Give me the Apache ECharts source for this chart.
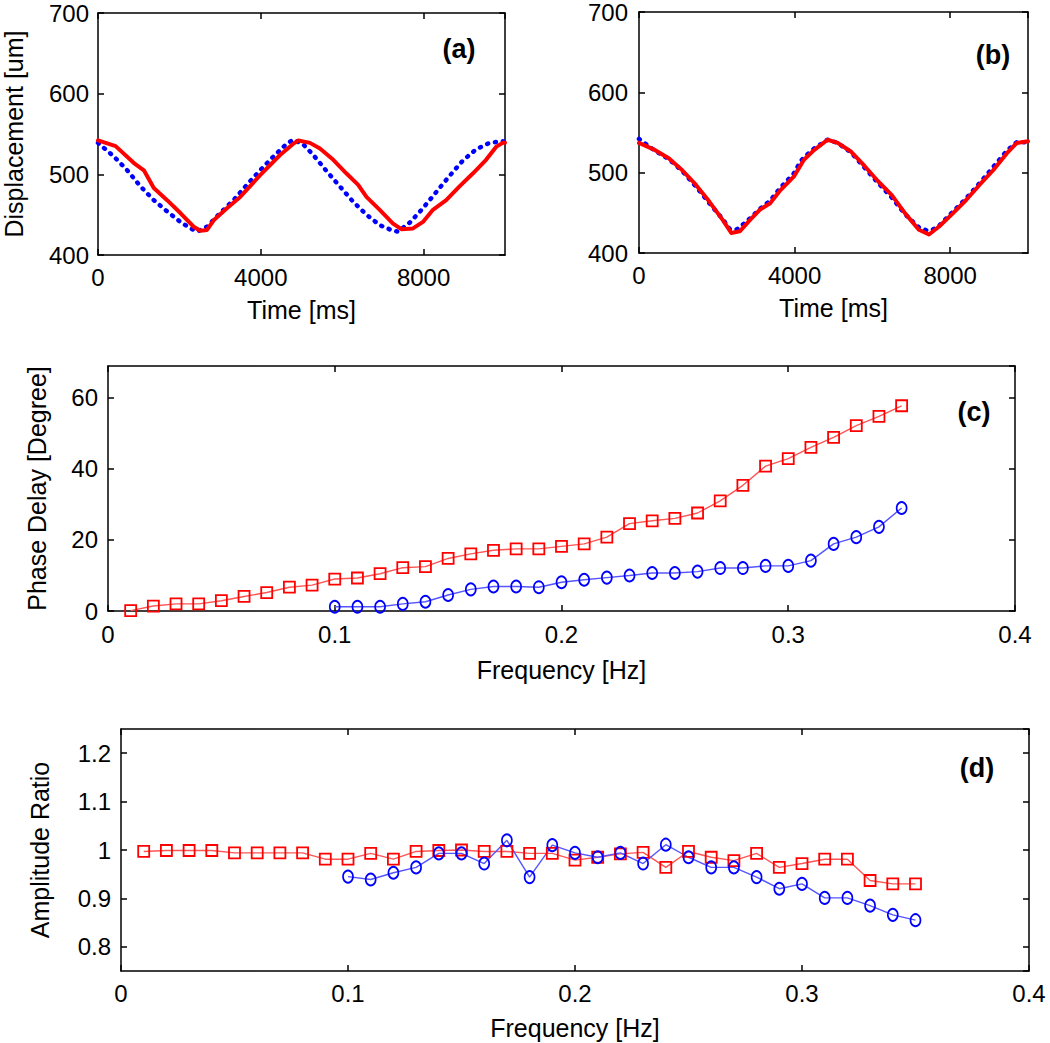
<!DOCTYPE html>
<html><head><meta charset="utf-8">
<script src="https://cdn.jsdelivr.net/npm/echarts@6/dist/echarts.min.js"></script>
<style>html,body{margin:0;padding:0;background:#fff}#c{width:1050px;height:1043px}</style>
</head><body><div id="c"></div>
<script>
// ---------- Data ----------
// Panel (a): displacement vs time
const aRedT  = [0,433,882,1127,1371,1698,2024,2351,2514,2678,2841,3167,3494,3984,4473,4800,4922,5208,5453,5780,6106,6392,6596,6922,7249,7453,7739,7984,8229,8555,8882,9208,9535,9780,9943,10000];
const aRedY  = [542,535,514,505,483,468,452,435,430,431,443,458,472,499,524,538,542,539,532,518,501,487,472,456,439,432,433,441,456,468,485,501,518,534,539,539];
const aBlueT = [0,392,718,1045,1371,1698,2024,2269,2433,2678,3004,3331,3657,3984,4310,4637,4800,5045,5290,5616,5943,6269,6596,6922,7249,7371,7657,7984,8310,8637,8963,9290,9616,9943,10000];
const aBlueY = [539,522,505,485,468,454,441,433,429,435,452,468,487,505,522,538,543,537,524,504,485,466,450,437,430,429,440,458,478,498,517,531,539,541,540];
// Panel (b)
const bRedT  = [0,417,765,1112,1460,1807,2155,2372,2589,2850,3110,3371,3632,3979,4240,4500,4848,5108,5456,5804,6151,6499,6846,7194,7454,7715,8062,8410,8758,9105,9453,9713,10000];
const bRedY  = [537,528,518,503,485,464,441,425,427,441,454,462,478,495,516,528,541,537,526,508,489,472,449,429,423,433,449,466,485,503,524,537,539];
const bBlueT = [0,417,765,1112,1460,1807,2155,2330,2500,2589,2850,3110,3371,3632,3979,4153,4240,4500,4848,5108,5456,5804,6151,6499,6846,7194,7400,7550,7715,8062,8410,8758,9105,9453,9713,10000];
const bBlueY = [542,527,517,502,483,462,442,430,429,432,443,455,465,481,499,514,519,530,541,537,525,506,487,469,448,432,428,429,434,451,468,487,507,527,538,538];
// Panels (c) and (d): frequency response
const freqRed  = [0.01,0.02,0.03,0.04,0.05,0.06,0.07,0.08,0.09,0.10,0.11,0.12,0.13,0.14,0.15,0.16,0.17,0.18,0.19,0.20,0.21,0.22,0.23,0.24,0.25,0.26,0.27,0.28,0.29,0.30,0.31,0.32,0.33,0.34,0.35];
const freqBlue = [0.10,0.11,0.12,0.13,0.14,0.15,0.16,0.17,0.18,0.19,0.20,0.21,0.22,0.23,0.24,0.25,0.26,0.27,0.28,0.29,0.30,0.31,0.32,0.33,0.34,0.35];
const phaseRed  = [0.1,1.4,2.0,2.0,2.9,4.1,5.2,6.7,7.3,9.0,9.3,10.5,12.2,12.5,14.8,16.1,17.1,17.5,17.5,18.2,18.9,20.8,24.6,25.4,26.1,27.6,31.0,35.4,40.8,42.9,46.1,48.9,52.2,54.8,57.8];
const phaseBlue = [1.2,1.2,1.2,2.0,2.6,4.5,6.1,6.9,6.9,6.7,8.1,8.8,9.4,10.0,10.7,10.7,11.1,12.1,12.1,12.7,12.7,14.2,18.9,20.8,23.7,29.0];
const ampRed  = [0.997,0.999,0.999,0.999,0.994,0.994,0.994,0.994,0.981,0.981,0.993,0.981,0.997,0.999,1.000,0.997,0.997,0.993,0.993,0.979,0.985,0.992,0.995,0.964,0.997,0.985,0.978,0.993,0.964,0.972,0.981,0.981,0.937,0.930,0.930];
const ampBlue = [0.945,0.939,0.953,0.964,0.993,0.993,0.972,1.020,0.944,1.010,0.994,0.985,0.994,0.972,1.011,0.985,0.964,0.964,0.944,0.920,0.930,0.901,0.901,0.885,0.866,0.855];
// Texts
const panelLabels = ['(a)','(b)','(c)','(d)'];
const titles = {disp:'Displacement [um]', time:'Time [ms]', phase:'Phase Delay [Degree]', amp:'Amplitude Ratio', freq:'Frequency [Hz]'};

// ---------- Build ----------
const FONT = '"Liberation Sans", Arial, sans-serif';
const BLACK = '#000';
const zip = (a, b) => a.map((v, i) => [v, b[i]]);
const plain = v => String(+v.toFixed(6));
const grids = [
  {left:98, top:13, width:407, height:242},
  {left:639, top:12, width:389, height:241},
  {left:108, top:366, width:907, height:245},
  {left:121, top:729, width:908, height:242}
].map(g => Object.assign({outerBoundsMode:'none', containLabel:false, show:false}, g));

const xAxis = [], yAxis = [];
const lineS = {color:BLACK, width:1.5};
const tickS = {show:true, inside:true, length:6, lineStyle:{color:BLACK, width:1.5}};
const labelS = (extra) => Object.assign({show:true, color:BLACK, fontSize:24, fontFamily:FONT, margin:10, formatter:plain}, extra || {});
const nameS = {color:BLACK, fontSize:25, fontFamily:FONT};

function addAxes(gi, x, y) {
  const xi = xAxis.length, yi = yAxis.length;
  xAxis.push(Object.assign({type:'value', gridIndex:gi, position:'bottom', min:x.min, max:x.max,
    axisLine:{show:true, onZero:false, lineStyle:lineS}, axisTick:tickS, splitLine:{show:false},
    axisLabel:labelS(x.label), name:x.name || '', nameLocation:'middle', nameGap:x.gap || 0, nameTextStyle:nameS},
    x.interval ? {interval:x.interval} : {}));
  xAxis.push(Object.assign({type:'value', gridIndex:gi, position:'top', min:x.min, max:x.max,
    axisLine:{show:true, onZero:false, lineStyle:lineS}, axisTick:tickS, splitLine:{show:false}, axisLabel:{show:false}},
    x.interval ? {interval:x.interval} : {}));
  yAxis.push(Object.assign({type:'value', gridIndex:gi, position:'left', min:y.min, max:y.max,
    axisLine:{show:true, onZero:false, lineStyle:lineS}, axisTick:tickS, splitLine:{show:false},
    axisLabel:labelS(y.label), name:y.name || '', nameLocation:'middle', nameGap:y.gap || 0, nameTextStyle:nameS},
    y.interval ? {interval:y.interval} : {splitNumber:y.split}));
  yAxis.push(Object.assign({type:'value', gridIndex:gi, position:'right', min:y.min, max:y.max,
    axisLine:{show:true, onZero:false, lineStyle:lineS}, axisTick:tickS, splitLine:{show:false}, axisLabel:{show:false}},
    y.interval ? {interval:y.interval} : {splitNumber:y.split}));
  return [xi, yi];
}

const A = addAxes(0, {min:0, max:10000, interval:4000, name:titles.time, gap:42, label:{showMaxLabel:false}},
                     {min:400, max:700, interval:100, name:titles.disp, gap:72, label:{margin:9}});
const B = addAxes(1, {min:0, max:10000, interval:4000, name:titles.time, gap:42, label:{showMaxLabel:false}},
                     {min:400, max:700, interval:100, label:{margin:11}});
const C = addAxes(2, {min:0, max:0.4, interval:0.1, name:titles.freq, gap:46, label:{margin:11}},
                     {min:0, max:69, interval:20, name:titles.phase, gap:59, label:{showMaxLabel:false}});
const D = addAxes(3, {min:0, max:0.4, interval:0.1, name:titles.freq, gap:44},
                     {min:0.75, max:1.25, split:5, name:titles.amp, gap:69, label:{showMinLabel:false, showMaxLabel:false}});

function timeSeries(ax, data, color, dotted) {
  return {type:'line', xAxisIndex:ax[0], yAxisIndex:ax[1], data, showSymbol:false, symbol:'none',
    smooth:false, silent:true,
    lineStyle: dotted ? {color, width:4.5, type:[1,7], cap:'round'} : {color, width:4, cap:'round', join:'round'}};
}
function freqSeries(ax, data, lineColor, markColor, sym, size) {
  return {type:'line', xAxisIndex:ax[0], yAxisIndex:ax[1], data, symbol:sym, symbolSize:size, showSymbol:true,
    silent:true, lineStyle:{color:lineColor, width:1.4},
    itemStyle:{color:'rgba(255,255,255,0)', borderColor:markColor, borderWidth:1.8}};
}

const series = [
  timeSeries(A, zip(aBlueT, aBlueY), '#0000ff', true),
  timeSeries(A, zip(aRedT, aRedY), '#ff0000', false),
  timeSeries(B, zip(bBlueT, bBlueY), '#0000ff', true),
  timeSeries(B, zip(bRedT, bRedY), '#ff0000', false),
  freqSeries(C, zip(freqRed, phaseRed), '#ff5555', '#ff0000', 'rect', 11),
  freqSeries(C, zip(freqBlue, phaseBlue), '#5555ff', '#0000ff', 'circle', [10,12]),
  freqSeries(D, zip(freqRed, ampRed), '#ff5555', '#ff0000', 'rect', 11),
  freqSeries(D, zip(freqBlue, ampBlue), '#5555ff', '#0000ff', 'circle', [10,12])
];

const labelPos = [[459,49],[993,55],[974,412],[977,768]];
const graphic = panelLabels.map((t, i) => ({type:'text', x:labelPos[i][0], y:labelPos[i][1], silent:true,
  style:{text:t, fill:BLACK, fontSize:27, fontWeight:'bold', fontFamily:FONT, align:'center', verticalAlign:'middle'}}));

const chart = echarts.init(document.getElementById('c'), null, {renderer:'svg'});
chart.setOption({animation:false, backgroundColor:'#fff', grid:grids, xAxis, yAxis, series, graphic});
</script></body></html>
